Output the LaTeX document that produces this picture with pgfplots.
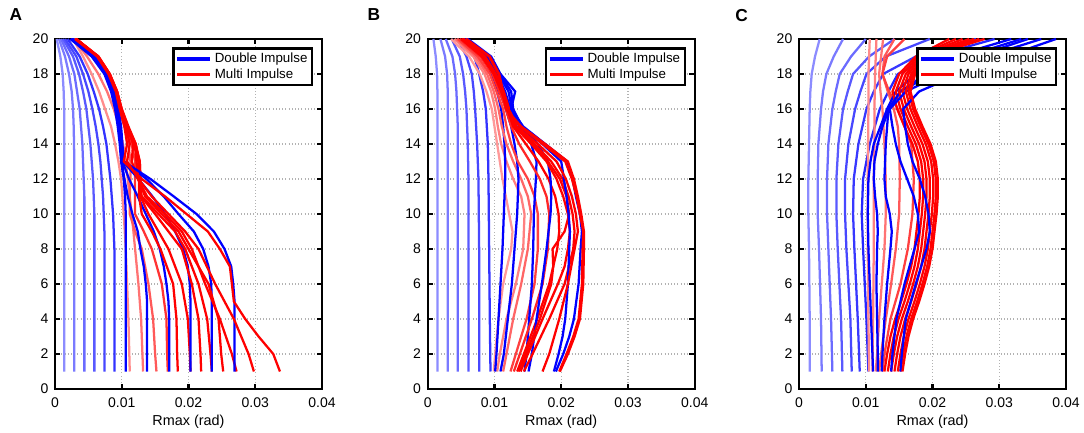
\documentclass[border=0pt]{standalone}
\usepackage{fontspec}
\setmainfont{Liberation Sans}
\usepackage{pgfplots}
\pgfplotsset{compat=1.18}
\pgfplotsset{legend image code/.code={\draw[#1] (0pt,0pt) -- (25pt,0pt);}}
\pgfplotsset{
 lb/.style={draw=blue!#1!white, line width=1.7pt},
 lr/.style={draw=red!#1!white, line width=1.7pt},
 panel/.style={scale only axis, width=200.25pt, height=262.5pt, anchor=south west,
  xmin=0,xmax=0.04,ymin=0,ymax=20,
  xtick={0,0.01,0.02,0.03,0.04}, xticklabels={0,0.01,0.02,0.03,0.04}, scaled x ticks=false,
  ytick={0,2,...,20}, xtick pos=both, ytick pos=both, xticklabel pos=lower, yticklabel pos=left,
  tick align=inside, major tick length=4pt,
  grid=major, grid style={dotted, gray!60, line width=0.8pt},
  axis line style={line width=1.6pt}, tick style={black, line width=1.6pt},
  tick label style={font=\fontsize{10.5}{12}\selectfont},
  /pgf/number format/assume math mode=true,
  xticklabel style={yshift=-3.2pt}, yticklabel style={xshift=-1.5pt},
  xlabel={Rmax (rad)},
  xlabel style={at={(axis description cs:0.5,0)}, anchor=center, yshift=-24.5pt, font=\fontsize{10.8}{12}\selectfont},
  no markers,
  legend style={at={(0.967,0.976)}, anchor=north east, draw=black, line width=1.6pt, fill=white,
   font=\fontsize{10}{12}\selectfont, inner sep=1.5pt, row sep=-1pt},
  legend cell align=left
 }
}
\begin{document}
\begin{tikzpicture}
\path[use as bounding box] (0,0) rectangle (813pt,324pt);
\node[font=\bfseries\fontsize{13}{15}\selectfont] at (12pt,312.75pt) {A};
\node[font=\bfseries\fontsize{13}{15}\selectfont] at (280.5pt,312.75pt) {B};
\node[font=\bfseries\fontsize{13}{15}\selectfont] at (556.3pt,312.5pt) {C};
% ---------------- A ----------------
\begin{axis}[panel, at={(41.25pt,32.25pt)}]
\addlegendimage{blue, line width=2.5pt}\addlegendentry{Double Impulse}
\addlegendimage{red, line width=2.5pt}\addlegendentry{Multi Impulse}
\addplot[lb=45] coordinates {(.0014,1)(.0014,15)(.00137,16)(.0013,17)(.00115,18)(.0008,19)(.00025,20)};
\addplot[lb=52] coordinates {(.0029,1)(.0029,13)(.00285,14)(.0028,15)(.0027,16)(.0025,17)(.0021,18)(.0015,19)(.0006,20)};
\addplot[lb=58] coordinates {(.0044,1)(.0044,11)(.0043,12)(.0042,13)(.0041,14)(.0039,15)(.0037,16)(.0033,17)(.0029,18)(.0021,19)(.0009,20)};
\addplot[lb=65] coordinates {(.0059,1)(.0059,10)(.0058,11)(.0057,12)(.0055,13)(.0053,14)(.005,15)(.0047,16)(.0042,17)(.0036,18)(.0027,19)(.0012,20)};
\addplot[lb=72] coordinates {(.0074,1)(.0074,9)(.0073,10)(.0072,11)(.007,12)(.0068,13)(.0065,14)(.0061,15)(.0056,16)(.005,17)(.0042,18)(.0032,19)(.0015,20)};
\addplot[lb=80] coordinates {(.0089,1)(.0089,8)(.0088,9)(.0087,10)(.0085,11)(.0083,12)(.008,13)(.0077,14)(.0072,15)(.0066,16)(.0058,17)(.0049,18)(.0037,19)(.0019,20)};
\addplot[lr=45] coordinates {(.0112,1)(.011,4)(.0108,6)(.0106,8)(.0103,10)(.0101,11)(.0099,12)(.0095,13)(.009,14)(.0084,15)(.0075,16)(.0066,17)(.0055,18)(.0042,19)(.0027,20)};
\addplot[lr=55] coordinates {(.0132,1)(.0131,2)(.0129,4)(.0125,6)(.012,8)(.0115,10)(.0112,11)(.0109,12)(.0106,13)(.0102,14)(.0096,15)(.0088,16)(.0078,17)(.0065,18)(.0048,19)(.0028,20)};
\addplot[lb=100] coordinates {(.0106,1)(.0106,10)(.0105,11)(.0103,12)(.0099,13)(.0097,14)(.0094,15)(.009,16)(.0084,17)(.0074,18)(.0055,19)(.0023,20)};
\addplot[lr=65] coordinates {(.0152,1)(.015,2)(.0147,4)(.014,6)(.013,8)(.012,9)(.0112,10)(.0112,11)(.0113,12)(.0113,13)(.011,14)(.0104,15)(.0096,16)(.0089,17)(.0078,18)(.0061,19)(.0029,20)};
\addplot[lb=100] coordinates {(.0138,1)(.0138,5)(.0136,6)(.0133,7)(.0128,8)(.0124,9)(.0116,10)(.0109,11)(.0104,12)(.01,13)(.0098,14)(.0096,15)(.0092,16)(.0086,17)(.0076,18)(.0057,19)(.0024,20)};
\addplot[lr=80] coordinates {(.0169,1)(.0168,2)(.0167,4)(.016,6)(.0145,8)(.0133,9)(.012,10)(.012,11)(.012,12)(.012,13)(.0115,14)(.0106,15)(.0098,16)(.0091,17)(.008,18)(.0063,19)(.003,20)};
\addplot[lb=100] coordinates {(.0171,1)(.0171,4)(.017,5)(.0167,6)(.0163,7)(.0157,8)(.0148,9)(.0136,10)(.0124,11)(.0111,12)(.0101,13)(.0099,14)(.0097,15)(.0093,16)(.0087,17)(.0077,18)(.0058,19)(.0025,20)};
\addplot[lr=100] coordinates {(.0184,1)(.0183,2)(.0182,4)(.0177,6)(.0158,8)(.0145,9)(.013,10)(.0126,11)(.0126,12)(.0125,13)(.0118,14)(.0107,15)(.0098,16)(.0092,17)(.0081,18)(.0064,19)(.0031,20)};
\addplot[lr=100] coordinates {(.0203,1)(.0202,2)(.0199,4)(.019,6)(.017,8)(.0155,9)(.014,10)(.0128,11)(.0128,12)(.0127,13)(.012,14)(.0108,15)(.0099,16)(.0092,17)(.0081,18)(.0064,19)(.0031,20)};
\addplot[lb=100] coordinates {(.0203,1)(.0203,5)(.0202,6)(.0199,7)(.0192,8)(.018,9)(.0165,10)(.0146,11)(.0125,12)(.0102,13)(.01,14)(.0098,15)(.0094,16)(.0088,17)(.0078,18)(.0059,19)(.0026,20)};
\addplot[lr=100] coordinates {(.0219,1)(.0218,2)(.0215,4)(.0205,6)(.019,8)(.017,9)(.015,10)(.0129,11)(.0128,12)(.0127,13)(.0121,14)(.0109,15)(.0099,16)(.0093,17)(.0082,18)(.0065,19)(.0032,20)};
\addplot[lr=100] coordinates {(.0235,1)(.0233,2)(.0228,4)(.0215,6)(.0195,8)(.018,9)(.0155,10)(.013,11)(.0126,12)(.0125,13)(.0121,14)(.011,15)(.01,16)(.0093,17)(.0082,18)(.0065,19)(.0032,20)};
\addplot[lb=100] coordinates {(.0235,1)(.0235,5)(.0234,6)(.023,7)(.0222,8)(.0208,9)(.0185,10)(.0163,11)(.0137,12)(.0103,13)(.01,14)(.0098,15)(.0094,16)(.0088,17)(.0078,18)(.0059,19)(.0026,20)};
\addplot[lr=100] coordinates {(.0252,1)(.0249,2)(.0245,4)(.023,6)(.02,8)(.0185,9)(.016,10)(.0135,11)(.0125,12)(.0122,13)(.012,14)(.0109,15)(.01,16)(.0093,17)(.0082,18)(.0065,19)(.0032,20)};
\addplot[lr=100] coordinates {(.0272,1)(.0265,2)(.0247,4)(.0225,6)(.0205,8)(.019,9)(.0165,10)(.0138,11)(.0124,12)(.0115,13)(.0117,14)(.0108,15)(.0099,16)(.0092,17)(.0081,18)(.0064,19)(.0031,20)};
\addplot[lb=100] coordinates {(.0269,1)(.0269,5)(.0267,6)(.0264,7)(.0254,8)(.0238,9)(.0212,10)(.0178,11)(.0143,12)(.0103,13)(.0101,14)(.0099,15)(.0095,16)(.0089,17)(.0079,18)(.006,19)(.0027,20)};
\addplot[lr=100] coordinates {(.0298,1)(.029,2)(.0268,4)(.024,6)(.0215,8)(.0195,9)(.017,10)(.0145,11)(.0125,12)(.0108,13)(.0112,14)(.0106,15)(.0098,16)(.0092,17)(.0081,18)(.0064,19)(.0031,20)};
\addplot[lr=100] coordinates {(.0337,1)(.0327,2)(.0305,3)(.0285,4)(.0268,5)(.0265,6)(.0262,7)(.0247,8)(.0229,9)(.0197,10)(.0165,11)(.013,12)(.0103,13)(.0108,14)(.0104,15)(.0097,16)(.0091,17)(.008,18)(.0063,19)(.003,20)};
\end{axis}
% ---------------- B ----------------
\begin{axis}[panel, at={(320.8pt,32.25pt)}]
\addlegendimage{blue, line width=2.5pt}\addlegendentry{Double Impulse}
\addlegendimage{red, line width=2.5pt}\addlegendentry{Multi Impulse}
\addplot[lb=45] coordinates {(.00145,1)(.00145,17)(.0014,18)(.0012,19)(.00085,20)};
\addplot[lb=52] coordinates {(.003,1)(.003,17)(.0029,18)(.0026,19)(.0019,20)};
\addplot[lb=58] coordinates {(.0045,1)(.0045,15)(.0044,16)(.0043,17)(.0041,18)(.0037,19)(.0027,20)};
\addplot[lb=65] coordinates {(.0061,1)(.0061,12)(.006,14)(.0058,16)(.0056,17)(.0053,18)(.0048,19)(.0036,20)};
\addplot[lb=72] coordinates {(.0077,1)(.0077,8)(.0076,12)(.0074,14)(.0071,16)(.0069,17)(.0066,18)(.0058,19)(.0045,20)};
\addplot[lb=80] coordinates {(.0094,1)(.0093,4)(.0092,8)(.0091,12)(.009,14)(.0087,16)(.0083,17)(.0077,18)(.007,19)(.0052,20)};
\addplot[lr=40] coordinates {(.0099,1)(.0101,2)(.0106,4)(.0113,6)(.0125,8)(.0127,9)(.0122,10)(.0112,12)(.0108,13)(.0104,14)(.01,15)(.0096,16)(.0088,17)(.0078,18)(.0062,19)(.0035,20)};
\addplot[lr=50] coordinates {(.0104,1)(.0108,2)(.0118,4)(.0132,6)(.0143,8)(.0145,10)(.014,11)(.0128,12)(.0118,13)(.011,14)(.0105,15)(.0101,16)(.0095,17)(.0085,18)(.0068,19)(.004,20)};
\addplot[lb=100] coordinates {(.0101,1)(.0103,2)(.0106,4)(.0109,6)(.0112,8)(.0114,10)(.0116,12)(.0116,13)(.0115,14)(.0113,15)(.011,16)(.0104,17)(.0096,18)(.0082,19)(.0055,20)};
\addplot[lr=60] coordinates {(.0113,1)(.0118,2)(.0128,4)(.014,6)(.015,8)(.0155,10)(.015,11)(.014,12)(.0128,13)(.0118,14)(.0111,15)(.0106,16)(.0099,17)(.0089,18)(.0072,19)(.0043,20)};
\addplot[lb=100] coordinates {(.0109,1)(.0114,2)(.012,4)(.0126,6)(.013,8)(.0134,10)(.0136,12)(.0134,13)(.013,14)(.0125,15)(.0117,16)(.011,17)(.0101,18)(.0086,19)(.0056,20)};
\addplot[lr=75] coordinates {(.0124,1)(.0132,2)(.014,3)(.0148,4)(.016,6)(.0165,8)(.0165,10)(.016,11)(.015,12)(.0135,13)(.0125,14)(.0118,15)(.0113,16)(.0103,17)(.0093,18)(.0075,19)(.0045,20)};
\addplot[lb=100] coordinates {(.0145,1)(.0148,2)(.0152,4)(.0156,6)(.0158,8)(.0159,10)(.0162,12)(.0163,13)(.0155,14)(.0137,15)(.0124,16)(.0116,17)(.0104,18)(.0089,19)(.0057,20)};
\addplot[lr=85] coordinates {(.0129,1)(.0138,2)(.0156,4)(.0172,6)(.018,8)(.0182,10)(.0178,11)(.0168,12)(.0153,13)(.0137,14)(.0125,15)(.0117,16)(.0107,17)(.0097,18)(.0079,19)(.0048,20)};
\addplot[lr=100] coordinates {(.0134,1)(.0144,2)(.0164,4)(.0182,6)(.0194,8)(.0197,9)(.0196,10)(.0191,11)(.0181,12)(.0166,13)(.0147,14)(.0128,15)(.0119,16)(.011,17)(.0099,18)(.0081,19)(.005,20)};
\addplot[lb=100] coordinates {(.0151,1)(.0156,2)(.0163,4)(.0171,6)(.0178,8)(.0184,10)(.0185,11)(.0184,12)(.018,13)(.0165,14)(.0139,15)(.0126,16)(.0121,17)(.0106,18)(.0091,19)(.0058,20)};
\addplot[lr=100] coordinates {(.0136,1)(.0147,2)(.0168,4)(.0185,6)(.0188,7)(.0187,8)(.0205,9)(.0212,10)(.0208,11)(.0198,12)(.018,13)(.0158,14)(.0131,15)(.012,16)(.0111,17)(.01,18)(.0083,19)(.0051,20)};
\addplot[lr=100] coordinates {(.0139,1)(.015,2)(.0172,4)(.0195,6)(.0205,7)(.021,8)(.0213,9)(.021,10)(.0203,11)(.0193,12)(.0178,13)(.0155,14)(.013,15)(.012,16)(.0112,17)(.01,18)(.0083,19)(.0052,20)};
\addplot[lr=100] coordinates {(.0144,1)(.0157,2)(.0182,4)(.0205,6)(.0218,8)(.022,9)(.0217,10)(.0211,11)(.0202,12)(.0185,13)(.016,14)(.0132,15)(.0121,16)(.0113,17)(.0101,18)(.0084,19)(.0053,20)};
\addplot[lb=100] coordinates {(.0189,1)(.0196,2)(.0202,3)(.0206,4)(.021,6)(.0212,8)(.0213,9)(.0211,10)(.0208,11)(.0204,12)(.02,13)(.0172,14)(.0141,15)(.0128,16)(.0125,17)(.0108,18)(.0093,19)(.0059,20)};
\addplot[lr=100] coordinates {(.0172,1)(.0182,2)(.0197,4)(.021,6)(.022,8)(.0225,9)(.0222,10)(.0216,11)(.0207,12)(.0193,13)(.0165,14)(.0133,15)(.0122,16)(.0114,17)(.0102,18)(.0086,19)(.0054,20)};
\addplot[lb=100] coordinates {(.0192,1)(.0203,2)(.0212,3)(.0219,4)(.0226,6)(.0229,8)(.0231,9)(.0228,10)(.0222,11)(.0217,12)(.0209,13)(.0176,14)(.0143,15)(.0125,16)(.0131,17)(.0109,18)(.0095,19)(.006,20)};
\addplot[lr=100] coordinates {(.0197,1)(.0208,2)(.0218,3)(.0226,4)(.0231,6)(.0232,8)(.0233,9)(.0228,10)(.0223,11)(.0216,12)(.0206,13)(.0172,14)(.0138,15)(.0118,16)(.0112,17)(.0106,18)(.0092,19)(.0057,20)};
\addplot[lr=100] coordinates {(.0198,1)(.021,2)(.022,3)(.0228,4)(.0233,6)(.0234,8)(.0234,9)(.023,10)(.0225,11)(.0219,12)(.021,13)(.0176,14)(.014,15)(.0117,16)(.0113,17)(.0107,18)(.0093,19)(.0058,20)};
\end{axis}
% ---------------- C ----------------
\begin{axis}[panel, at={(599.25pt,32.25pt)}]
\addlegendimage{blue, line width=2.5pt}\addlegendentry{Double Impulse}
\addlegendimage{red, line width=2.5pt}\addlegendentry{Multi Impulse}
\addplot[lb=45] coordinates {(.0016,1)(.0016,4)(.0015,8)(.0014,10)(.0014,12)(.0015,14)(.0016,16)(.0017,17)(.0019,18)(.0024,19)(.0031,20)};
\addplot[lb=52] coordinates {(.0034,1)(.0033,4)(.003,8)(.0028,10)(.0028,12)(.0029,14)(.0033,16)(.0036,17)(.0041,18)(.0052,19)(.0066,20)};
\addplot[lb=58] coordinates {(.005,1)(.0048,4)(.0044,8)(.0042,10)(.0042,12)(.0044,14)(.005,16)(.0055,17)(.0061,18)(.0078,19)(.01,20)};
\addplot[lb=65] coordinates {(.0065,1)(.0063,4)(.0058,8)(.0056,10)(.0056,12)(.0059,14)(.0066,16)(.0073,17)(.0081,18)(.0105,19)(.0143,20)};
\addplot[lb=72] coordinates {(.0079,1)(.0077,4)(.0071,8)(.0069,10)(.0069,12)(.0074,14)(.0084,16)(.0092,17)(.0101,18)(.013,19)(.0196,20)};
\addplot[lb=78] coordinates {(.0091,1)(.0088,4)(.0083,8)(.0081,10)(.0082,12)(.0089,14)(.0101,16)(.0112,17)(.0126,18)(.0175,19)(.0265,20)};
\addplot[lb=85] coordinates {(.0104,1)(.0101,4)(.0096,8)(.0094,10)(.0096,12)(.0106,14)(.0121,16)(.0134,17)(.0148,18)(.02,19)(.0293,20)};
\addplot[lr=45] coordinates {(.0105,1)(.0104,4)(.0103,8)(.0103,12)(.0104,16)(.0104,18)(.0105,19)(.0106,20)};
\addplot[lr=50] coordinates {(.011,1)(.0111,4)(.0112,8)(.0112,12)(.0113,14)(.0113,16)(.0114,18)(.0115,19)(.0116,20)};
\addplot[lr=55] coordinates {(.0115,1)(.0117,2)(.012,4)(.0124,6)(.0128,8)(.013,10)(.013,12)(.0128,14)(.0125,16)(.0122,17)(.012,18)(.0123,19)(.0126,20)};
\addplot[lr=65] coordinates {(.012,1)(.0123,2)(.013,4)(.0138,6)(.0145,8)(.015,10)(.0151,12)(.015,14)(.0148,15)(.0142,16)(.0133,17)(.0125,18)(.0128,19)(.0143,20)};
\addplot[lr=75] coordinates {(.0125,1)(.0128,2)(.0137,4)(.0152,6)(.0163,8)(.017,10)(.0172,12)(.0168,14)(.0158,15)(.0148,16)(.0135,17)(.0125,18)(.0132,19)(.0158,20)};
\addplot[lb=100] coordinates {(.0111,1)(.011,2)(.0108,4)(.0106,6)(.0104,8)(.0103,10)(.0104,12)(.0107,13)(.0112,14)(.0122,15)(.0132,16)(.0145,17)(.0175,18)(.023,19)(.0318,20)};
\addplot[lr=100] coordinates {(.0128,1)(.0132,2)(.0137,3)(.0144,4)(.0153,5)(.0161,6)(.0168,7)(.0173,8)(.0179,10)(.0181,11)(.0181,12)(.0178,13)(.017,14)(.0158,15)(.0147,16)(.014,17)(.015,18)(.0175,19)(.0225,20)};
\addplot[lb=100] coordinates {(.0118,1)(.0118,2)(.0117,4)(.0116,6)(.0117,8)(.0118,9)(.0117,10)(.0114,11)(.0112,12)(.0113,13)(.0118,14)(.0125,15)(.0135,16)(.0152,17)(.019,18)(.025,19)(.0333,20)};
\addplot[lr=100] coordinates {(.0133,1)(.0137,2)(.0142,3)(.0149,4)(.0158,5)(.0166,6)(.0173,7)(.0178,8)(.0184,10)(.0186,11)(.0186,12)(.0183,13)(.0175,14)(.0163,15)(.0152,16)(.0145,17)(.0155,18)(.0178,19)(.0235,20)};
\addplot[lb=100] coordinates {(.0124,1)(.0125,2)(.0128,4)(.0132,6)(.0137,8)(.0139,9)(.0136,10)(.013,11)(.0128,12)(.0129,13)(.013,14)(.0132,15)(.0134,16)(.0152,17)(.02,18)(.0265,19)(.0343,20)};
\addplot[lr=100] coordinates {(.0138,1)(.0142,2)(.0147,3)(.0154,4)(.0163,5)(.0171,6)(.0178,7)(.0183,8)(.0189,10)(.0191,11)(.0191,12)(.0188,13)(.018,14)(.0168,15)(.0157,16)(.015,17)(.016,18)(.0181,19)(.0245,20)};
\addplot[lr=100] coordinates {(.0143,1)(.0147,2)(.0152,3)(.0159,4)(.0168,5)(.0176,6)(.0183,7)(.0188,8)(.0194,10)(.0196,11)(.0196,12)(.0193,13)(.0185,14)(.0173,15)(.0162,16)(.0155,17)(.0164,18)(.0184,19)(.0255,20)};
\addplot[lb=100] coordinates {(.0138,1)(.014,2)(.0146,4)(.0158,6)(.0173,8)(.018,9)(.0178,10)(.0172,11)(.0162,12)(.0152,13)(.0145,14)(.014,15)(.0136,16)(.016,17)(.0215,18)(.028,19)(.0363,20)};
\addplot[lr=100] coordinates {(.0148,1)(.0152,2)(.0157,3)(.0164,4)(.0173,5)(.0181,6)(.0188,7)(.0193,8)(.0199,10)(.0201,11)(.0201,12)(.0198,13)(.019,14)(.0178,15)(.0167,16)(.016,17)(.0168,18)(.0187,19)(.0262,20)};
\addplot[lr=100] coordinates {(.0152,1)(.0156,2)(.0161,3)(.0168,4)(.0177,5)(.0185,6)(.0192,7)(.0197,8)(.0203,10)(.0205,11)(.0205,12)(.0202,13)(.0194,14)(.0182,15)(.0171,16)(.0164,17)(.0171,18)(.019,19)(.027,20)};
\addplot[lb=100] coordinates {(.0152,1)(.0154,2)(.016,4)(.0175,6)(.0191,8)(.0196,9)(.0194,10)(.0189,11)(.0181,12)(.017,13)(.0163,14)(.0159,15)(.0156,16)(.018,17)(.024,18)(.031,19)(.0385,20)};
\addplot[lr=100] coordinates {(.0155,1)(.0159,2)(.0164,3)(.0171,4)(.018,5)(.0188,6)(.0195,7)(.02,8)(.0206,10)(.0208,11)(.0208,12)(.0205,13)(.0197,14)(.0185,15)(.0174,16)(.0167,17)(.0174,18)(.0193,19)(.0278,20)};
\end{axis}
\end{tikzpicture}
\end{document}
